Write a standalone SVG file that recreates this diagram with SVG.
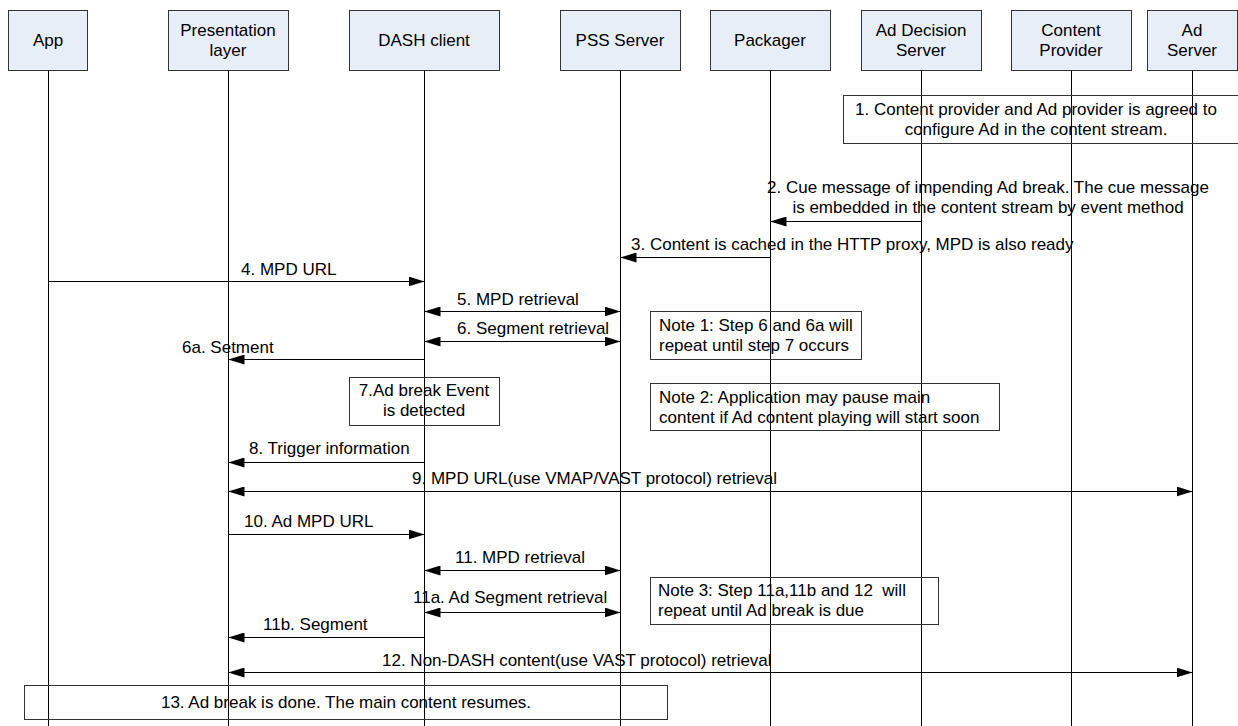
<svg xmlns="http://www.w3.org/2000/svg" width="1238" height="726" viewBox="0 0 1238 726">
<defs>
<marker id="ah" markerUnits="userSpaceOnUse" markerWidth="16" markerHeight="10" refX="16" refY="5" orient="auto-start-reverse">
<path d="M0,0 L16,5 L0,10 Z" fill="#000"/>
</marker>
<style>
text{font-family:"Liberation Sans",Arial,sans-serif;font-size:17px;fill:#000;white-space:pre}
.hb{fill:#e8eef8;stroke:#333;stroke-width:1}
.ll{stroke:#000;stroke-width:1;fill:none}
.nb{fill:none;stroke:#333;stroke-width:1}
.m{stroke:#000;stroke-width:1;fill:none;marker-end:url(#ah)}
.b{stroke:#000;stroke-width:1;fill:none;marker-start:url(#ah);marker-end:url(#ah)}
.c{text-anchor:middle}
</style>
</defs>
<rect width="1238" height="726" fill="#fff"/>

<g id="app">
<rect class="hb" x="8.5" y="10.5" width="79" height="60"/>
<line class="ll" x1="48.5" y1="70.5" x2="48.5" y2="726"/>
<text class="c" x="48" y="46">App</text>
</g>
<g id="presentation">
<rect class="hb" x="168.5" y="10.5" width="120" height="60"/>
<line class="ll" x1="228.5" y1="70.5" x2="228.5" y2="726"/>
<text class="c" x="228" y="36">Presentation</text>
<text class="c" x="228" y="56">layer</text>
</g>
<g id="dash">
<rect class="hb" x="349.5" y="10.5" width="150" height="60"/>
<line class="ll" x1="424.5" y1="70.5" x2="424.5" y2="726"/>
<text class="c" x="424" y="46">DASH client</text>
</g>
<g id="pss">
<rect class="hb" x="560.5" y="10.5" width="120" height="60"/>
<line class="ll" x1="620.5" y1="70.5" x2="620.5" y2="726"/>
<text class="c" x="620" y="46">PSS Server</text>
</g>
<g id="packager">
<rect class="hb" x="710.5" y="10.5" width="120" height="60"/>
<line class="ll" x1="770.5" y1="70.5" x2="770.5" y2="726"/>
<text class="c" x="770" y="46">Packager</text>
</g>
<g id="ads">
<rect class="hb" x="861.5" y="10.5" width="120" height="60"/>
<line class="ll" x1="921.5" y1="70.5" x2="921.5" y2="726"/>
<text class="c" x="921" y="36">Ad Decision</text>
<text class="c" x="921" y="56">Server</text>
</g>
<g id="cp">
<rect class="hb" x="1011.5" y="10.5" width="120" height="60"/>
<line class="ll" x1="1071.5" y1="70.5" x2="1071.5" y2="726"/>
<text class="c" x="1071" y="36">Content</text>
<text class="c" x="1071" y="56">Provider</text>
</g>
<g id="adserver">
<rect class="hb" x="1147.5" y="10.5" width="90" height="60"/>
<line class="ll" x1="1192.5" y1="70.5" x2="1192.5" y2="726"/>
<text class="c" x="1192" y="36">Ad</text>
<text class="c" x="1192" y="56">Server</text>
</g>

<g id="note-step1">
<rect class="nb" x="843.5" y="95.5" width="400" height="48"/>
<text class="c" x="1036" y="115">1. Content provider and Ad provider is agreed to</text>
<text class="c" x="1036" y="135">configure Ad in the content stream.</text>
</g>
<g id="note-step7">
<rect class="nb" x="349.5" y="377.5" width="150" height="48"/>
<text class="c" x="424" y="396">7.Ad break Event</text>
<text class="c" x="424" y="416">is detected</text>
</g>
<g id="note1">
<rect class="nb" x="650.5" y="311.5" width="211" height="48"/>
<text x="659" y="331">Note 1: Step 6 and 6a will</text>
<text x="659" y="351">repeat until step 7 occurs</text>
</g>
<g id="note2">
<rect class="nb" x="650.5" y="383.5" width="349" height="47"/>
<text x="659" y="403">Note 2: Application may pause main</text>
<text x="659" y="423">content if Ad content playing will start soon</text>
</g>
<g id="note3">
<rect class="nb" x="650.5" y="577.5" width="288" height="47"/>
<text x="658" y="596">Note 3: Step 11a,11b and 12  will</text>
<text x="658" y="616">repeat until Ad break is due</text>
</g>
<g id="note-step13">
<rect class="nb" x="24.5" y="685.5" width="643" height="34"/>
<text class="c" x="346" y="708">13. Ad break is done. The main content resumes.</text>
</g>

<g id="connectors">
<line class="m" x1="921.5" y1="221.5" x2="770.5" y2="221.5"/>
<text class="c" x="988" y="193">2. Cue message of impending Ad break. The cue message</text>
<text class="c" x="988" y="213">is embedded in the content stream by event method</text>

<line class="m" x1="770.5" y1="257.5" x2="620.5" y2="257.5"/>
<text x="631" y="250">3. Content is cached in the HTTP proxy, MPD is also ready</text>

<line class="m" x1="48.5" y1="281.5" x2="424.5" y2="281.5"/>
<text x="241" y="275">4. MPD URL</text>

<line class="b" x1="424.5" y1="311.5" x2="620.5" y2="311.5"/>
<text x="457" y="305">5. MPD retrieval</text>

<line class="b" x1="424.5" y1="341.5" x2="620.5" y2="341.5"/>
<text x="457" y="334">6. Segment retrieval</text>

<line class="m" x1="424.5" y1="359.5" x2="228.5" y2="359.5"/>
<text x="182" y="353">6a. Setment</text>

<line class="m" x1="424.5" y1="462.5" x2="228.5" y2="462.5"/>
<text x="249" y="454">8. Trigger information</text>

<line class="b" x1="228.5" y1="491.5" x2="1192.5" y2="491.5"/>
<text x="412" y="484">9. MPD URL(use VMAP/VAST protocol) retrieval</text>

<line class="m" x1="228.5" y1="534.5" x2="424.5" y2="534.5"/>
<text x="244" y="527">10. Ad MPD URL</text>

<line class="b" x1="424.5" y1="570.5" x2="620.5" y2="570.5"/>
<text x="455" y="563">11. MPD retrieval</text>

<line class="b" x1="424.5" y1="612.5" x2="620.5" y2="612.5"/>
<text x="413" y="603">11a. Ad Segment retrieval</text>

<line class="m" x1="424.5" y1="637.5" x2="228.5" y2="637.5"/>
<text x="263" y="630">11b. Segment</text>

<line class="b" x1="228.5" y1="672.5" x2="1192.5" y2="672.5"/>
<text x="382" y="666">12. Non-DASH content(use VAST protocol) retrieval</text>
</g>
</svg>
